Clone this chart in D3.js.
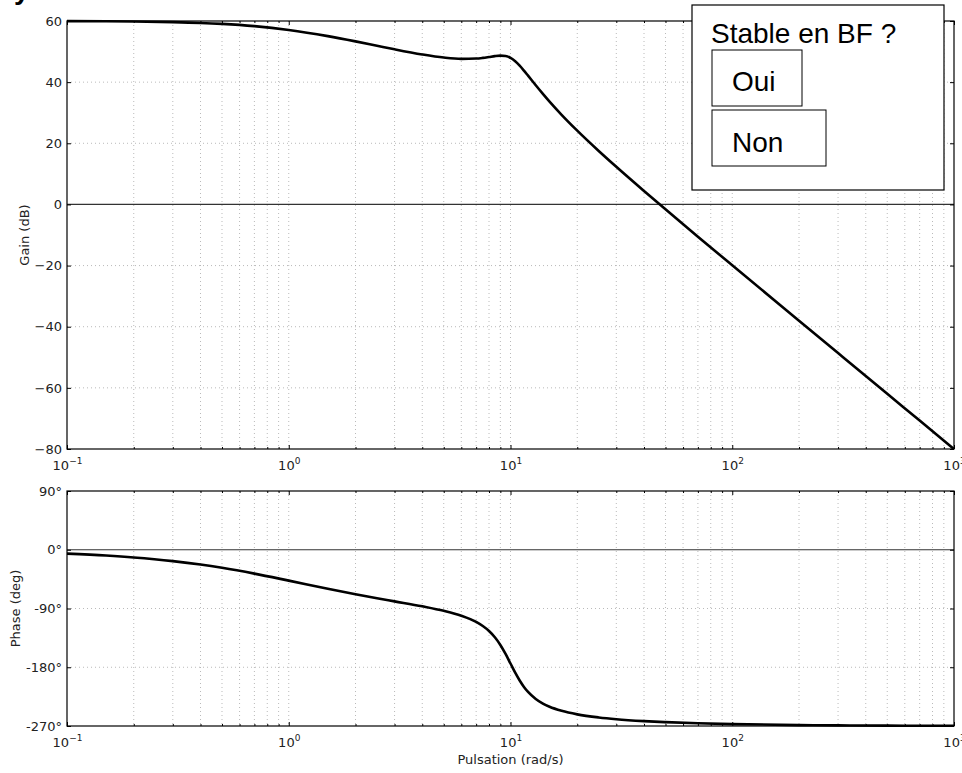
<!DOCTYPE html>
<html>
<head>
<meta charset="utf-8">
<script src="https://cdn.jsdelivr.net/npm/d3@7"></script>
<style>
  body { margin: 0; background: #fff; }
  svg { display: block; }
  .axis text { font-family: "DejaVu Sans", sans-serif; font-size: 13px; fill: #222; }
  .axis line { stroke: #000; }
  .axis path { display: none; }
  .grid line { stroke: #a8a8a8; stroke-width: 0.8; stroke-dasharray: 1,3; }
  .lbl { font-family: "DejaVu Sans", sans-serif; font-size: 13px; fill: #222; }
  .box text { font-family: "Liberation Sans", Arial, sans-serif; font-size: 28px; fill: #000; }
</style>
</head>
<body>
<svg id="chart"></svg>
<script>
// pulsation (rad/s) and the values
const freq  = [0.1, 0.15, 0.2, 0.3, 0.4, 0.5, 0.7, 1, 1.5, 2, 2.5, 3, 4, 5, 6, 7, 7.5, 8, 8.5, 9, 9.5, 10, 10.5, 11, 11.5, 12, 13, 14, 15, 17, 20, 25, 30, 40, 50, 70, 100, 200, 300, 500, 700, 1000];
const gainDb = [59.96, 59.91, 59.83, 59.63, 59.37, 59.05, 58.31, 57.07, 55.06, 53.34, 51.91, 50.74, 49.06, 48.05, 47.62, 47.72, 47.93, 48.22, 48.51, 48.67, 48.53, 47.92, 46.82, 45.38, 43.76, 42.11, 38.97, 36.14, 33.62, 29.32, 24.13, 17.48, 12.30, 4.39, -1.61, -10.54, -19.92, -38.04, -48.62, -61.94, -70.70, -80.0];
const phaseDeg = [-5.9, -8.9, -11.8, -17.4, -22.7, -27.7, -36.6, -47.3, -59.8, -68.2, -74.3, -79.1, -86.7, -93.6, -101.1, -110.6, -116.9, -124.5, -134.1, -145.8, -159.6, -174.3, -188.3, -200.3, -210.1, -217.8, -228.6, -235.7, -240.6, -246.8, -252.2, -256.9, -259.6, -262.5, -264.1, -265.8, -267.1, -268.6, -269.1, -269.4, -269.6, -269.7];

const xDecades = [-1, 0, 1, 2, 3];
const gainTicks = [-80, -60, -40, -20, 0, 20, 40, 60];
const phaseTicks = [-270, -180, -90, 0, 90];
const phaseTickLabels = ["-270°", "-180°", "-90°", "0°", "90°"];
const question = "Stable en BF ?";
const answers = ["Oui", "Non"];

const width = 962, height = 773;
const left = 67, right = 954;
const gainTop = 21, gainBottom = 449;
const phaseTop = 491, phaseBottom = 726;

const svg = d3.select("#chart").attr("width", width).attr("height", height);

// stray heading glyph cut off at the top of the image
svg.append("text")
  .attr("x", 14).attr("y", -1.5)
  .style("font-family", "Liberation Sans, Arial, sans-serif")
  .style("font-weight", "bold").style("font-size", "28px")
  .text("y");

const x = d3.scaleLog().domain([0.1, 1000]).range([left, right]);
const majors = xDecades.map(e => Math.pow(10, e));
const minors = [];
majors.slice(0, -1).forEach(m => { for (let k = 2; k < 10; k++) minors.push(m * k); });

const sup = e => (e < 0 ? "\u2212" : "") + Math.abs(e);

function panel(top, bottom, y, ticks, tickFmt, values) {
  const g = svg.append("g");

  // dotted grid
  const grid = g.append("g").attr("class", "grid");
  grid.selectAll("line.v").data(majors.concat(minors).filter(v => v > 0.1 && v < 1000))
    .join("line").attr("class", "v")
    .attr("x1", d => x(d)).attr("x2", d => x(d))
    .attr("y1", top).attr("y2", bottom);
  grid.selectAll("line.h").data(ticks.filter(t => t !== 0 && y(t) > top + 1 && y(t) < bottom - 1))
    .join("line").attr("class", "h")
    .attr("x1", left).attr("x2", right)
    .attr("y1", d => y(d)).attr("y2", d => y(d));

  // zero line
  g.append("line")
    .attr("x1", left).attr("x2", right)
    .attr("y1", y(0)).attr("y2", y(0))
    .attr("stroke", "#333").attr("stroke-width", 1.2);

  // curve
  const line = d3.line()
    .x((d, i) => x(freq[i]))
    .y(d => y(d))
    .curve(d3.curveMonotoneX);
  g.append("path")
    .datum(values)
    .attr("d", line)
    .attr("fill", "none")
    .attr("stroke", "#000")
    .attr("stroke-width", 2.6)
    .attr("stroke-linejoin", "round");

  // axes, ticks pointing inward on all four sides
  g.append("g").attr("class", "axis")
    .attr("transform", `translate(${left},0)`)
    .call(d3.axisLeft(y).tickValues(ticks).tickSize(-4).tickPadding(5).tickFormat(tickFmt));
  g.append("g").attr("class", "axis")
    .attr("transform", `translate(${right},0)`)
    .call(d3.axisRight(y).tickValues(ticks).tickSize(-4).tickFormat(""));

  const xAxis = g.append("g").attr("class", "axis")
    .attr("transform", `translate(0,${bottom})`)
    .call(d3.axisBottom(x).tickValues(majors).tickSize(-4).tickFormat(""));
  xAxis.selectAll(".tick text")
    .attr("y", 12).attr("dy", "0.71em")
    .each(function (d, i) {
      const t = d3.select(this);
      t.append("tspan").text("10");
      t.append("tspan").attr("dy", -6).attr("font-size", 9).text(sup(xDecades[i]));
    });
  g.append("g").attr("class", "axis")
    .attr("transform", `translate(0,${bottom})`)
    .call(d3.axisBottom(x).tickValues(minors).tickSize(-2).tickFormat(""));
  g.append("g").attr("class", "axis")
    .attr("transform", `translate(0,${top})`)
    .call(d3.axisTop(x).tickValues(majors).tickSize(-4).tickFormat(""));
  g.append("g").attr("class", "axis")
    .attr("transform", `translate(0,${top})`)
    .call(d3.axisTop(x).tickValues(minors).tickSize(-2).tickFormat(""));

  // frame
  g.append("rect")
    .attr("x", left).attr("y", top)
    .attr("width", right - left).attr("height", bottom - top)
    .attr("fill", "none").attr("stroke", "#000").attr("stroke-width", 1.2);
  return g;
}

const yGain = d3.scaleLinear().domain([-80, 60]).range([gainBottom, gainTop]);
const yPhase = d3.scaleLinear().domain([-270, 90]).range([phaseBottom, phaseTop]);

panel(gainTop, gainBottom, yGain, gainTicks, d => (d < 0 ? "\u2212" + (-d) : d), gainDb);
panel(phaseTop, phaseBottom, yPhase, phaseTicks, (d, i) => phaseTickLabels[i], phaseDeg);

// axis titles
svg.append("text").attr("class", "lbl")
  .attr("transform", `translate(29,${(gainTop + gainBottom) / 2}) rotate(-90)`)
  .attr("text-anchor", "middle").text("Gain (dB)");
svg.append("text").attr("class", "lbl")
  .attr("transform", `translate(20,${(phaseTop + phaseBottom) / 2}) rotate(-90)`)
  .attr("text-anchor", "middle").text("Phase (deg)");
svg.append("text").attr("class", "lbl")
  .attr("x", (left + right) / 2).attr("y", 764)
  .attr("text-anchor", "middle").text("Pulsation (rad/s)");

// question box
const box = svg.append("g").attr("class", "box");
box.append("rect")
  .attr("x", 692).attr("y", 5).attr("width", 252).attr("height", 185)
  .attr("fill", "#fff").attr("stroke", "#000").attr("stroke-width", 1.2);
box.append("text").attr("x", 711).attr("y", 43).text(question);
const btnW = [90, 114];
answers.forEach((a, i) => {
  box.append("rect")
    .attr("x", 712).attr("y", 50 + i * 60).attr("width", btnW[i]).attr("height", 56)
    .attr("fill", "#fff").attr("stroke", "#000").attr("stroke-width", 1);
  box.append("text").attr("x", 732).attr("y", 91 + i * 61).text(a);
});
</script>
</body>
</html>
